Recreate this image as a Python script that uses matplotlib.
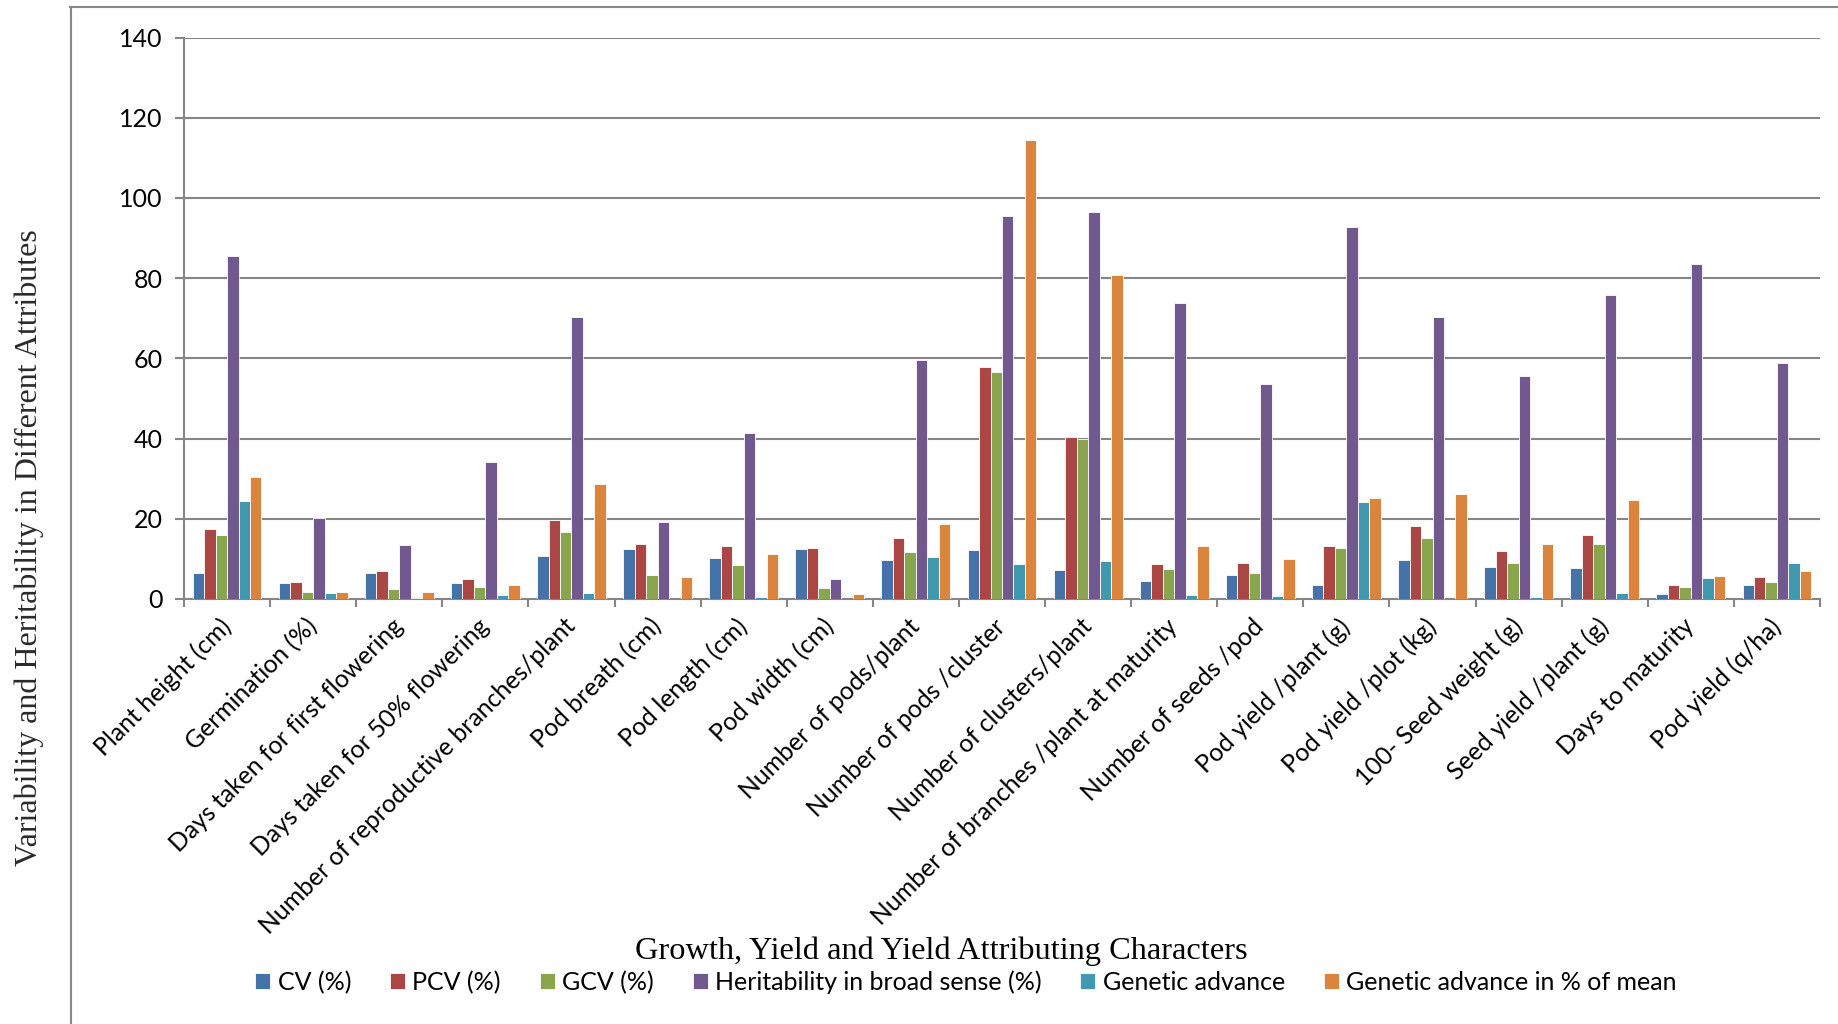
import matplotlib
matplotlib.use("Agg")
import matplotlib.pyplot as plt
import numpy as np
from matplotlib.lines import Line2D

categories = [
    "Plant height (cm)", "Germination (%)", "Days taken for first flowering",
    "Days taken for 50% flowering", "Number of reproductive branches/plant",
    "Pod breath (cm)", "Pod length (cm)", "Pod width (cm)", "Number of pods/plant",
    "Number of pods /cluster", "Number of clusters/plant",
    "Number of branches /plant at maturity", "Number of seeds /pod",
    "Pod yield /plant (g)", "Pod yield /plot (kg)", "100- Seed weight (g)",
    "Seed yield /plant (g)", "Days to maturity", "Pod yield (q/ha)",
]

series_names = ["CV (%)", "PCV (%)", "GCV (%)", "Heritability in broad sense (%)",
                "Genetic advance", "Genetic advance in % of mean"]

cv = [6.6, 3.9, 6.4, 4.1, 10.7, 12.4, 10.2, 12.5, 9.7, 12.1, 7.2, 4.4, 6.1, 3.5, 9.8, 7.9, 7.8, 1.3, 3.6]
pcv = [17.4, 4.3, 6.9, 5.1, 19.8, 13.8, 13.2, 12.8, 15.2, 57.9, 40.4, 8.7, 9.0, 13.1, 18.1, 11.9, 15.9, 3.5, 5.6]
gcv = [16.0, 1.8, 2.4, 2.9, 16.6, 6.0, 8.5, 2.8, 11.8, 56.7, 39.8, 7.5, 6.6, 12.6, 15.2, 8.9, 13.8, 3.0, 4.3]
heritability = [85.5, 20.1, 13.4, 34.2, 70.2, 19.3, 41.4, 4.9, 59.7, 95.6, 96.5, 73.9, 53.7, 92.8, 70.4, 55.6, 75.8, 83.6, 58.8]
genetic_advance = [24.5, 1.6, 0.2, 1.1, 1.6, 0.0, 0.5, 0.0, 10.5, 8.8, 9.5, 1.0, 0.7, 24.3, 0.0, 0.4, 1.6, 5.3, 8.9]
ga_percent_mean = [30.5, 1.7, 1.8, 3.6, 28.7, 5.4, 11.2, 1.3, 18.6, 114.4, 80.7, 13.1, 9.9, 25.2, 26.2, 13.7, 24.7, 5.8, 6.9]

y_ticks = [0, 20, 40, 60, 80, 100, 120, 140]

colors = ["#4572A7", "#AA4643", "#89A54E", "#71588F", "#4198AF", "#DB843D"]

all_series = [cv, pcv, gcv, heritability, genetic_advance, ga_percent_mean]

fig = plt.figure(figsize=(18.38, 10.24), dpi=100)
ax = fig.add_axes([184 / 1838, 1 - 599 / 1024, (1820 - 184) / 1838, (599 - 37.5) / 1024])

n = len(categories)
x = np.arange(n)
w = 1 / 7.5
for i, (vals, name, c) in enumerate(zip(all_series, series_names, colors)):
    offs = (i - 2.5) * w
    ax.bar(x + offs, vals, width=w, color=c, edgecolor="white", linewidth=0.6,
           label=name, zorder=3)

ax.set_xlim(-0.5, n - 0.5)
ax.set_ylim(0, 140)
ax.set_yticks(y_ticks)
ax.yaxis.grid(True, color="#868686", linewidth=1.5, zorder=0)
ax.set_axisbelow(True)

for s in ["top", "right"]:
    ax.spines[s].set_visible(False)
for s in ["left", "bottom"]:
    ax.spines[s].set_color("#868686")
    ax.spines[s].set_linewidth(1.5)

ax.set_xticks(x)
ax.set_xticks(np.arange(-0.5, n, 1.0), minor=True)
ax.tick_params(axis="x", which="major", length=0, pad=17)
ax.tick_params(axis="x", which="minor", length=6, width=1.5, color="#868686")
ax.tick_params(axis="y", length=6.5, width=1.5, color="#868686", pad=9,
               labelsize=18)
for t in ax.get_yticklabels():
    t.set_fontfamily("Lato")
ax.set_xticklabels(categories, rotation=45, ha="right", rotation_mode="anchor",
                   va="center", fontsize=17.8, fontfamily="Lato")

# axis titles
fig.text(941 / 1838, 1 - 951 / 1024, "Growth, Yield and Yield Attributing Characters",
         ha="center", va="center", fontsize=23.3, fontfamily="Liberation Serif")
fig.text(29 / 1838, 1 - 548 / 1024, "Variability and Heritability in Different Attributes",
         ha="center", va="center", rotation=90, fontsize=23,
         fontfamily="Liberation Serif", color="#2a2a2a")

# outer frame lines
fig.add_artist(Line2D([70 / 1838, 1.0], [1 - 7 / 1024, 1 - 7 / 1024],
                      transform=fig.transFigure, color="#888888", linewidth=1.5))
fig.add_artist(Line2D([71 / 1838, 71 / 1838], [0, 1 - 7 / 1024],
                      transform=fig.transFigure, color="#888888", linewidth=1.5))

handles, labels = ax.get_legend_handles_labels()
leg = fig.legend(handles, labels, loc="center", bbox_to_anchor=(966 / 1838, 1 - 982 / 1024),
                 ncol=6, frameon=False, prop={"family": "Lato", "size": 18},
                 handlelength=0.6, handleheight=0.6, handletextpad=0.3,
                 columnspacing=1.55, borderpad=0)

fig.savefig("out.png", dpi=100)
